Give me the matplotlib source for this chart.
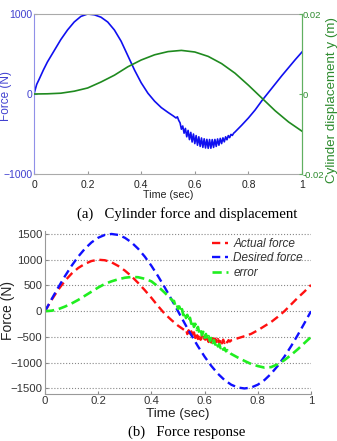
"""
Two stacked panels: (a) cylinder force with displacement on a twin axis,
(b) actual vs desired force and the tracking error.
Values read off the reference picture.
"""
import matplotlib
matplotlib.use('Agg')
import matplotlib.pyplot as plt

plt.rcParams['font.family'] = ['Liberation Sans', 'DejaVu Sans']

# ---- panel (a): cylinder force (N) ----
TOP_T = [0, 0.005, 0.01, 0.02, 0.035, 0.05, 0.075, 0.1, 0.125, 0.15, 0.175,
         0.2, 0.225, 0.25, 0.275, 0.3, 0.325, 0.35, 0.375, 0.4, 0.425, 0.45,
         0.475, 0.5, 0.52, 0.53, 0.535, 0.54,
         0.545, 0.55, 0.555, 0.56, 0.565, 0.57, 0.575, 0.58, 0.585, 0.59,
         0.595, 0.6, 0.605, 0.61, 0.615, 0.62, 0.625, 0.63, 0.635, 0.64,
         0.645, 0.65, 0.655, 0.66, 0.665, 0.67, 0.675, 0.68, 0.685, 0.69,
         0.695, 0.7, 0.705, 0.71, 0.715, 0.72, 0.725, 0.73, 0.735, 0.74,
         0.745,
         0.75, 0.775, 0.8, 0.825, 0.85, 0.875, 0.9, 0.925, 0.95, 0.975, 1.0]
TOP_FORCE = [0, 60, 120, 190, 300, 400, 540, 680, 800, 900, 970,
             1000, 990, 960, 900, 800, 660, 480, 300, 140, 10, -90,
             -170, -230, -275, -300, -285, -330,
             -360, -440, -400, -490, -430, -535, -455, -570, -480, -600,
             -500, -620, -520, -640, -535, -655, -550, -667, -560, -675,
             -567, -679, -569, -678, -570, -668, -568, -655, -562, -640,
             -555, -620, -548, -598, -535, -572, -520, -545, -505, -518,
             -490,
             -475, -390, -300, -200, -85, 20, 125, 230, 330, 430, 525]

# ---- panel (a): cylinder displacement y (m) ----
DISP_T = [0, 0.05, 0.1, 0.15, 0.2, 0.25, 0.3, 0.35, 0.4, 0.45, 0.5,
          0.55, 0.6, 0.65, 0.7, 0.75, 0.8, 0.85, 0.9, 0.95, 1.0]
DISP = [0, 0.00005, 0.0002, 0.0007, 0.0015, 0.0030, 0.0047, 0.0068, 0.0085,
        0.0098, 0.0106, 0.0109, 0.0105, 0.0094, 0.0076, 0.0052, 0.0022,
        -0.0010, -0.0042, -0.0070, -0.0093]

# ---- panel (b): desired force ----
DES_T = [0, 0.025, 0.05, 0.075, 0.1, 0.125, 0.15, 0.175, 0.2, 0.225, 0.25,
         0.275, 0.3, 0.325, 0.35, 0.375, 0.4, 0.425, 0.45, 0.475, 0.5,
         0.525, 0.55, 0.575, 0.6, 0.625, 0.65, 0.675, 0.7, 0.725, 0.75,
         0.775, 0.8, 0.825, 0.85, 0.875, 0.9, 0.925, 0.95, 0.975, 1.0]
DESIRED = [0, 235, 464, 681, 882, 1061, 1214, 1337, 1427, 1482, 1500,
           1482, 1427, 1337, 1214, 1061, 882, 681, 464, 235, 0,
           -235, -464, -681, -882, -1061, -1214, -1337, -1427, -1482, -1500,
           -1482, -1427, -1337, -1214, -1061, -882, -681, -464, -235, 0]

# ---- panel (b): actual force ----
ACT_T = [0, 0.025, 0.05, 0.075, 0.1, 0.125, 0.15, 0.175, 0.2, 0.225, 0.25,
         0.275, 0.3, 0.325, 0.35, 0.375, 0.4, 0.425, 0.45, 0.475, 0.5, 0.525,
         0.53, 0.535, 0.54, 0.545, 0.55, 0.555, 0.56, 0.565, 0.57, 0.575,
         0.58, 0.585, 0.59, 0.595, 0.6, 0.605, 0.61, 0.615, 0.62, 0.625,
         0.63, 0.635, 0.64, 0.645, 0.65, 0.655, 0.66, 0.665, 0.67, 0.675,
         0.68, 0.685, 0.69, 0.695, 0.7,
         0.725, 0.75, 0.775, 0.8, 0.825, 0.85, 0.875, 0.9, 0.925, 0.95,
         0.975, 1.0]
ACTUAL = [0, 220, 420, 590, 730, 840, 920, 975, 1000, 990, 950,
          880, 790, 680, 550, 410, 260, 100, -50, -170, -280, -370,
          -350, -445, -370, -470, -390, -500, -410, -520, -430, -540,
          -450, -555, -470, -570, -485, -585, -500, -598, -512, -608,
          -523, -617, -532, -623, -540, -626, -545, -625, -552, -618,
          -560, -605, -562, -590, -565,
          -525, -485, -440, -370, -290, -210, -110, 0, 130, 260,
          380, 510]

# ---- panel (b): error ----
ERR_T = [0, 0.025, 0.05, 0.075, 0.1, 0.125, 0.15, 0.175, 0.2, 0.225, 0.25,
         0.275, 0.3, 0.325, 0.35, 0.375, 0.4, 0.425, 0.45, 0.475,
         0.48, 0.485, 0.49, 0.495, 0.5, 0.505, 0.51, 0.515, 0.52, 0.525,
         0.53, 0.535, 0.54, 0.545, 0.55, 0.555, 0.56, 0.565, 0.57, 0.575,
         0.58, 0.585, 0.59, 0.595, 0.6, 0.605, 0.61, 0.615, 0.62, 0.625,
         0.63, 0.635, 0.64, 0.645, 0.65, 0.655, 0.66, 0.665, 0.67, 0.675,
         0.68, 0.685, 0.69, 0.695, 0.7,
         0.725, 0.75, 0.775, 0.8, 0.825, 0.85, 0.875, 0.9, 0.925, 0.95,
         0.975, 1.0]
ERROR = [0, 10, 40, 90, 150, 220, 300, 380, 460, 530, 580,
         620, 650, 665, 660, 630, 580, 480, 360, 230,
         200, 200, 110, 145, 45, 92, -16, 41, -77, -15,
         -133, -71, -189, -127, -245, -185, -305, -245, -365, -305,
         -419, -353, -467, -401, -515, -443, -551, -484, -582, -520,
         -618, -561, -649, -597, -685, -638, -716, -674, -747, -715,
         -778, -756, -809, -802, -830,
         -900, -965, -1025, -1065, -1095, -1085, -1030, -950, -850, -740,
         -620, -500]

X_TICKS = [0, 0.2, 0.4, 0.6, 0.8, 1]
X_TICKLABELS = ['0', '0.2', '0.4', '0.6', '0.8', '1']
TOP_YTICKS = [-1000, 0, 1000]
DISP_YTICKS = [-0.02, 0, 0.02]
DISP_YTICKLABELS = ['-0.02', '0', '0.02']
BOT_YTICKS = [-1500, -1000, -500, 0, 500, 1000, 1500]

W, H = 337, 441
fig = plt.figure(figsize=(W / 100, H / 100), dpi=100)


def fx(px):
    return px / W


def fy(py):
    return 1 - py / H


# ---------------- panel (a) ----------------
ax1 = fig.add_axes([fx(34), fy(174), fx(302 - 34), (174 - 14) / H])
ax1.plot(TOP_T, TOP_FORCE, color='#1010f0', linewidth=1.2)
ax1.set_xlim(0, 1)
ax1.set_ylim(-1000, 1000)
ax1.set_xticks(X_TICKS)
ax1.set_xticklabels(X_TICKLABELS)
ax1.set_yticks(TOP_YTICKS)
ax1.tick_params(axis='x', direction='in', length=2.5, labelsize=7.5,
                colors='#999999', labelcolor='#222222', pad=4)
ax1.tick_params(axis='y', direction='in', length=2.5, labelsize=7.5,
                colors='#8888e0', labelcolor='#4040d0', pad=1)
ax1.set_xlabel('Time (sec)', fontsize=7.7, labelpad=0, color='#222222')
for side in ('top', 'bottom'):
    ax1.spines[side].set_color('#aaaaaa')
ax1.spines['left'].set_color('#9090e8')
ax1.spines['right'].set_color('#60b060')

ax2 = ax1.twinx()
ax2.plot(DISP_T, DISP, color='#1f8a1f', linewidth=1.2)
ax2.set_ylim(-0.02, 0.02)
ax2.set_yticks(DISP_YTICKS)
ax2.set_yticklabels(DISP_YTICKLABELS)
ax2.tick_params(axis='y', direction='in', length=2.5, labelsize=6.8,
                colors='#60b060', labelcolor='#2e8b2e', pad=0.5)
for side in ('top', 'bottom', 'left'):
    ax2.spines[side].set_visible(False)
ax2.spines['right'].set_color('#60b060')

# axis titles placed by hand so they sit where the reference has them
fig.text(fx(6), fy(96), 'Force (N)', rotation=90, fontsize=8.5,
         color='#4040d0', ha='center', va='center')
fig.text(fx(332), fy(100), 'Cylinder displacement y (m)', rotation=90,
         fontsize=9.6, color='#2e8b2e', ha='center', va='center')

fig.text(fx(187), fy(214), '(a)   Cylinder force and displacement',
         family=['Liberation Serif', 'DejaVu Serif'], fontsize=10.6,
         ha='center', va='center')

# ---------------- panel (b) ----------------
ax3 = fig.add_axes([fx(45), fy(393.6), fx(311 - 45), (393.6 - 231.4) / H])
l1, = ax3.plot(ACT_T, ACTUAL, color='#ff1010', linestyle='--',
               linewidth=1.7, dashes=(3.5, 2))
l2, = ax3.plot(DES_T, DESIRED, color='#1010ff', linestyle='--',
               linewidth=1.7, dashes=(3.5, 2))
l3, = ax3.plot(ERR_T, ERROR, color='#20ee20', linestyle='--',
               linewidth=1.9, dashes=(3.5, 1.8))
ax3.set_xlim(0, 1)
ax3.set_ylim(-1600, 1550)
ax3.set_xticks(X_TICKS)
ax3.set_xticklabels(X_TICKLABELS)
ax3.set_yticks(BOT_YTICKS)
ax3.yaxis.grid(True, linestyle=':', color='#888888', linewidth=0.8)
ax3.set_axisbelow(True)
ax3.tick_params(direction='in', length=2.5, labelsize=8.2, colors='#888888',
                labelcolor='#333333', pad=2)
ax3.set_xlabel('Time (sec)', fontsize=9.7, labelpad=1, color='#222222')
ax3.spines['top'].set_visible(False)
ax3.spines['right'].set_visible(False)
ax3.spines['left'].set_color('#999999')
ax3.spines['bottom'].set_color('#999999')

fig.text(fx(8), fy(311), 'Force (N)', rotation=90, fontsize=10,
         color='#222222', ha='center', va='center')

leg = ax3.legend([l1, l2, l3], ['Actual force', 'Desired force', 'error'],
                 loc='upper right', bbox_to_anchor=(1.0, 1.01), frameon=False,
                 handlelength=1.4, handletextpad=0.4, labelspacing=0.2,
                 borderpad=0.2, prop={'size': 8.5, 'style': 'italic'})
for t in leg.get_texts():
    t.set_color('#333333')

fig.text(fx(187), fy(432), '(b)   Force response',
         family=['Liberation Serif', 'DejaVu Serif'], fontsize=10.6,
         ha='center', va='center')

fig.savefig('out.png', dpi=100)
